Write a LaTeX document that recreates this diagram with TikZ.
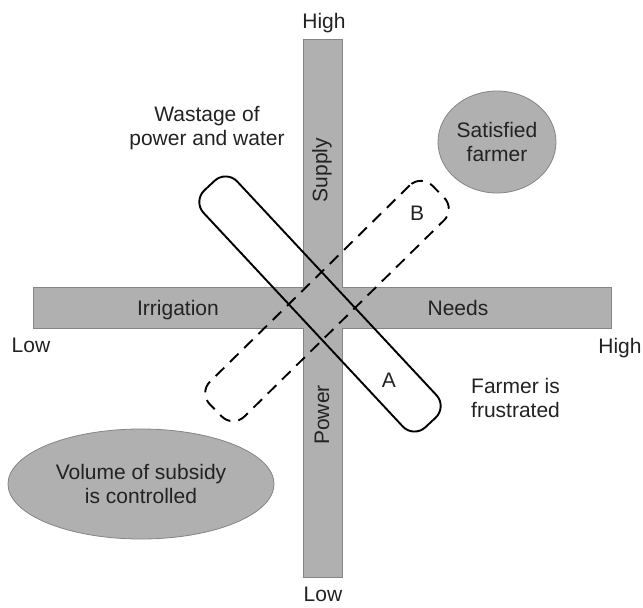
\documentclass[tikz,border=0pt]{standalone}
\usepackage{fontspec}
\setmainfont{Liberation Sans}
\usetikzlibrary{shapes.geometric}
\definecolor{bargray}{HTML}{B0B0B0}
\definecolor{bardraw}{HTML}{858585}
\definecolor{txt}{HTML}{222222}
\begin{document}
\begin{tikzpicture}[x=1pt,y=-1pt,
  font=\fontsize{21}{24}\selectfont, text=txt,
  blob/.style={ellipse, draw=bardraw, fill=bargray, line width=0.8pt, align=center, inner sep=0pt},
  lbl/.style={inner sep=0pt, anchor=base},
  barlbl/.style={inner sep=0pt, rotate=90},
  capsule/.style={draw=black, line width=1.9pt, rounded corners=16pt, inner sep=0pt, rectangle},
  dashcap/.style={capsule, dash pattern=on 12pt off 8pt},
]
\useasboundingbox (0,0) rectangle (643,608);
% cross of the two bars
\draw[draw=bardraw, fill=bargray, line width=0.8pt]
  (303,39) -- (342,39) -- (342,287) -- (611,287) -- (611,328) -- (342,328)
  -- (342,577) -- (303,577) -- (303,328) -- (33,328) -- (33,287) -- (303,287) -- cycle;
% bar labels
\node[barlbl] (supply) at (322,170) {Supply};
\node[barlbl] (power) at (322,415) {Power};
\node[lbl] (irr) at (178,315) {Irrigation};
\node[lbl] (needs) at (458,315) {Needs};
% axis ends
\node[lbl] (hightop) at (324,28) {High};
\node[lbl] (lowbot) at (323,601) {Low};
\node[lbl] (lowleft) at (31,352) {Low};
\node[lbl] (highright) at (620,353) {High};
% capsules
\node[capsule, minimum width=324pt, minimum height=46pt, rotate=-47] (capA) at (320,304) {};
\node[dashcap, minimum width=312pt, minimum height=49pt, rotate=44.5] (capB) at (327,301) {};
\node[inner sep=0pt] (A) at (389,380) {A};
\node[inner sep=0pt] (B) at (417,213) {B};
% ellipses
\node[blob, minimum width=118pt, minimum height=102pt] (sat) at (497,142) {Satisfied\\farmer};
\node[blob, minimum width=266pt, minimum height=110pt] (vol) at (141,484) {Volume of subsidy\\is controlled};
% free texts
\node[align=center, inner sep=0pt] (waste) at (207,128) {Wastage of\\power and water};
\node[align=left, inner sep=0pt, anchor=west] (frus) at (471,398) {Farmer is\\frustrated};
\end{tikzpicture}
\end{document}
